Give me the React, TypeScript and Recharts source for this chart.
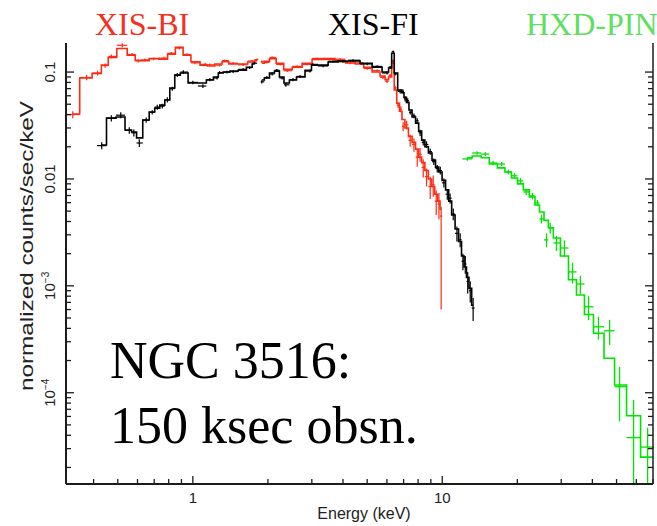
import React from "react";
import { ComposedChart, Line, Scatter, ErrorBar, XAxis, YAxis } from "recharts";

// XIS-BI (red): bin centre energy (keV), data rate, model, 1-sigma error
const biEnergy = [
  0.33, 0.375, 0.415, 0.445, 0.471, 0.521, 0.571, 0.604, 0.641, 0.697,
  0.765, 0.82, 0.883, 0.946, 1.02, 1.12, 1.17, 1.28, 1.34, 1.45,
  1.59, 1.73, 1.81, 1.85, 1.89, 1.98, 2.08, 2.24, 2.39, 2.62,
  2.87, 3.15, 3.55, 3.89, 4.27, 4.69, 5.0, 5.48, 5.79, 6.01,
  6.18, 6.36, 6.48,
  6.66, 6.82, 6.97, 7.2, 7.44, 7.7, 7.94, 8.15, 8.39, 8.65,
  8.95, 9.2, 9.46, 9.7, 9.9,
];
const biModel = [
  0.0405, 0.088, 0.097, 0.116, 0.137, 0.166, 0.144, 0.129, 0.128, 0.134,
  0.132, 0.147, 0.17, 0.144, 0.125, 0.116, 0.114, 0.119, 0.125, 0.119,
  0.119, 0.124, 0.128, null, 0.121, 0.126, 0.133, 0.121, 0.106, 0.111,
  0.121, 0.131, 0.134, 0.129, 0.124, 0.119, 0.111, 0.1, 0.092, 0.085,
  0.09, 0.128, 0.068,
  0.051, 0.043, 0.036, 0.03, 0.025, 0.022, 0.019, 0.016, 0.0142, 0.012,
  0.01, 0.0085, 0.0072, 0.0062, 0.0052,
];
const biRate = [
  0.04, 0.089, 0.098, 0.115, 0.14, 0.178, 0.146, 0.127, 0.13, 0.133,
  0.135, 0.15, 0.168, 0.146, 0.122, 0.118, 0.117, 0.116, 0.128, 0.121,
  0.117, 0.127, 0.131, null, 0.125, 0.123, 0.137, 0.118, 0.103, 0.113,
  0.118, 0.134, 0.131, 0.132, 0.121, 0.122, 0.108, 0.103, 0.089, 0.082,
  0.093, 0.122, 0.071,
  0.049, 0.045, 0.031, 0.032, 0.023, 0.021, 0.016, 0.017, 0.0128, 0.0105,
  0.0085, 0.0088, 0.0062, 0.0058, 0.0045,
];
const biErr = [
  0.003, 0.005, 0.005, 0.005, 0.006, 0.008, 0.005, 0.004, 0.004, 0.004,
  0.004, 0.004, 0.005, 0.004, 0.004, 0.004, 0.003, 0.003, 0.003, 0.003,
  0.003, 0.003, 0.003, null, 0.003, 0.003, 0.003, 0.003, 0.003, 0.003,
  0.003, 0.003, 0.003, 0.003, 0.003, 0.003, 0.003, 0.003, 0.003, 0.003,
  0.003, 0.004, 0.003,
  0.003, 0.003, 0.003, 0.003, 0.003, 0.003, 0.003, 0.0025, 0.0025, 0.002,
  0.002, 0.002, 0.0016, 0.0016, [0.0039, 0.001],
];

// XIS-FI (black)
const fiEnergy = [
  0.431, 0.471, 0.514, 0.556, 0.58, 0.61, 0.65, 0.687, 0.72, 0.754,
  0.79, 0.827, 0.866, 0.916, 1.0, 1.097, 1.17, 1.25, 1.28, 1.37,
  1.45, 1.59, 1.69, 1.77, 1.85, 1.89, 1.98, 2.08, 2.17, 2.28,
  2.36, 2.52, 2.69, 2.95, 3.03, 3.33, 3.65, 4.0, 4.39, 5.0,
  5.48, 6.01, 6.18, 6.36, 6.48,
  6.78, 6.95, 7.1, 7.27, 7.44, 7.7, 7.94, 8.15, 8.39, 8.65,
  8.95, 9.25, 9.55, 9.82, 10.15, 10.48, 10.75, 11.07, 11.45, 11.8,
  12.1, 12.37, 12.65, 12.95, 13.3,
];
const fiModel = [
  0.0208, 0.0371, 0.038, 0.0287, 0.0275, 0.0242, 0.0356, 0.0423, 0.046, 0.049,
  0.0548, 0.0709, 0.0937, 0.098, 0.0789, 0.079, 0.0842, 0.0898, 0.098, 0.1,
  0.102, 0.104, 0.111, 0.119, null, 0.0842, 0.088, 0.098, 0.102, 0.0898,
  0.0789, 0.0842, 0.0898, 0.104, 0.116, 0.116, 0.124, 0.127, 0.127, 0.121,
  0.111, 0.1, 0.109, 0.15, 0.098,
  0.068, 0.064, 0.058, 0.052, 0.0441, 0.038, 0.0333, 0.028, 0.0231, 0.02,
  0.0175, 0.015, 0.0129, 0.0116, 0.0097, 0.0079, 0.0062, 0.0046, 0.0034, 0.0026,
  0.0019, 0.0015, 0.0012, 0.00095, 0.00066,
];
const fiRate = [
  0.0205, 0.037, 0.0395, 0.0285, 0.027, 0.0217, 0.0355, 0.042, 0.047, 0.048,
  0.055, 0.07, 0.094, 0.1, 0.08, 0.074, 0.085, 0.088, 0.099, 0.1,
  0.101, 0.106, 0.11, 0.121, null, 0.081, 0.089, 0.096, 0.104, 0.088,
  0.076, 0.085, 0.091, 0.102, 0.118, 0.114, 0.126, 0.125, 0.129, 0.119,
  0.113, 0.098, 0.111, 0.155, 0.096,
  0.066, 0.066, 0.056, 0.054, 0.042, 0.039, 0.035, 0.027, 0.022, 0.021,
  0.018, 0.0145, 0.0125, 0.012, 0.0092, 0.0072, 0.0066, 0.0047, 0.0031, 0.0027,
  0.0017, 0.0016, 0.0011, 0.0009, 0.00062,
];
const fiErr = [
  0.0015, 0.0025, 0.0025, 0.002, 0.002, 0.0018, 0.002, 0.002, 0.0025, 0.0025,
  0.003, 0.003, 0.004, 0.004, 0.003, 0.003, 0.003, 0.003, 0.003, 0.003,
  0.003, 0.003, 0.003, 0.003, null, 0.003, 0.003, 0.003, 0.003, 0.003,
  0.003, 0.003, 0.003, 0.003, 0.003, 0.003, 0.003, 0.003, 0.003, 0.003,
  0.003, 0.003, 0.003, 0.004, 0.003,
  0.003, 0.003, 0.003, 0.003, 0.002, 0.002, 0.002, 0.0018, 0.0015, 0.0015,
  0.0012, 0.001, 0.001, 0.001, 0.0009, 0.0008, 0.0007, 0.0006, 0.0005, 0.0004,
  0.0003, 0.0003, 0.00025, 0.0002, 0.00015,
];

// HXD-PIN (green)
const pinEnergy = [
  12.6, 13.8, 14.9, 16.0, 17.3, 18.4, 19.5, 20.6, 21.7, 23.0,
  24.1, 25.0, 26.2, 27.1, 28.7, 30.9, 33.3, 35.8, 38.6, 42.3,
  46.9, 51.4, 58.5, 66.6, 75,
];
const pinRate = [
  0.0154, 0.0175, 0.0171, 0.0141, 0.0138, 0.0116, 0.0107, 0.0096, 0.00756, 0.00694,
  0.00597, 0.00423, 0.00269, 0.00348, 0.00252, 0.00226, 0.00135, 0.00104, 0.000637, 0.000414,
  0.00038, 0.000114, 0.000038, 0.000031, null,
];
const pinModel = [
  0.0158, 0.0164, 0.0158, 0.0138, 0.0127, 0.0116, 0.0102, 0.009, 0.0079, 0.0068,
  0.0057, 0.0049, 0.0041, 0.0035, 0.0028, 0.0019, 0.00114, 0.00082, 0.00054, 0.00036,
  0.00021, 0.000118, 0.000061, 0.000025, 0.000018,
];
const pinErr = [
  0.0006, 0.0007, 0.0007, 0.0006, 0.0006, 0.0006, 0.0006, 0.0006, 0.0005, 0.0005,
  0.0004, 0.0004, 0.0004, 0.0004, 0.0004, 0.0004, 0.0003, 0.0002, 0.00016, 0.0001,
  0.0001, 0.00006, [0.000024, 0.000048], [0.000017, 0.000016], null,
];

// axes
const xDomain = [0.31, 70];
const yDomain = [0.000014, 0.187];
const xMajorTicks = [1, 10];
const xTicks = [
  0.4, 0.5, 0.6, 0.7, 0.8, 0.9, 1, 2, 3, 4, 5, 6, 7, 8, 9, 10,
  20, 30, 40, 50, 60, 70,
];
const yMajorTicks = [0.0001, 0.001, 0.01, 0.1];
const yTickLabels = [["10", "\u22124"], ["10", "\u22123"], ["0.01"], ["0.1"]];
const yTicks = [
  0.00002, 0.00003, 0.00004, 0.00005, 0.00006, 0.00007, 0.00008, 0.00009,
  0.0001, 0.0002, 0.0003, 0.0004, 0.0005, 0.0006, 0.0007, 0.0008, 0.0009,
  0.001, 0.002, 0.003, 0.004, 0.005, 0.006, 0.007, 0.008, 0.009,
  0.01, 0.02, 0.03, 0.04, 0.05, 0.06, 0.07, 0.08, 0.09, 0.1,
];

const RED = "#ff2a12";
const GREEN = "#00e400";
const AXIS = "#1c1c1c";
const SANS = "'Liberation Sans', Arial, Helvetica, sans-serif";
const SERIF = "'Liberation Serif', 'Times New Roman', serif";

// rows for one instrument; x error = half of the bin, bin edges halfway (in log) to the neighbours
function buildRows(energy: number[], rate: any[], model: any[], err: any[]) {
  return energy.map((e, i) => {
    const left = i > 0 ? Math.sqrt(e * energy[i - 1]) : (e * e) / Math.sqrt(e * energy[i + 1]);
    const right =
      i < energy.length - 1 ? Math.sqrt(e * energy[i + 1]) : (e * e) / Math.sqrt(e * energy[i - 1]);
    return { e, rate: rate[i], model: model[i], xErr: [e - left, right - e], yErr: err[i] };
  });
}

const biRows = buildRows(biEnergy, biRate, biModel, biErr);
const fiRows = buildRows(fiEnergy, fiRate, fiModel, fiErr);
const pinRows = buildRows(pinEnergy, pinRate, pinModel, pinErr);

const isMajor = (list: number[], v: number) => list.some((m) => Math.abs(m - v) / m < 1e-6);

function BottomTick(props: any) {
  const { x, y, payload } = props;
  const major = isMajor(xMajorTicks, payload.value);
  return (
    <g>
      <line x1={x} x2={x} y1={y} y2={y - (major ? 8 : 5)} stroke={AXIS} strokeWidth={1.3} />
      {major && (
        <text x={x} y={y + 19} textAnchor="middle" fontSize={15} fontFamily={SANS} fill="#222">
          {payload.value}
        </text>
      )}
    </g>
  );
}

function TopTick(props: any) {
  const { x, y, payload } = props;
  const major = isMajor(xMajorTicks, payload.value);
  return <line x1={x} x2={x} y1={y} y2={y + (major ? 8 : 5)} stroke={AXIS} strokeWidth={1.3} />;
}

function LeftTick(props: any) {
  const { x, y, payload } = props;
  const idx = yMajorTicks.findIndex((m) => Math.abs(m - payload.value) / m < 1e-6);
  const major = idx >= 0;
  const lx = x - 11;
  const label = major ? yTickLabels[idx] : null;
  return (
    <g>
      <line x1={x} x2={x + (major ? 8 : 5)} y1={y} y2={y} stroke={AXIS} strokeWidth={1.3} />
      {label && (
        <text
          x={lx}
          y={y}
          transform={`rotate(-90 ${lx} ${y})`}
          textAnchor="middle"
          fontSize={15}
          fontFamily={SANS}
          fill="#222"
        >
          {label[0]}
          {label[1] && (
            <tspan dy={-6} fontSize={10}>
              {label[1]}
            </tspan>
          )}
        </text>
      )}
    </g>
  );
}

function RightTick(props: any) {
  const { x, y, payload } = props;
  const major = isMajor(yMajorTicks, payload.value);
  return <line x1={x} x2={x - (major ? 8 : 5)} y1={y} y2={y} stroke={AXIS} strokeWidth={1.3} />;
}

const noShape = () => <g />;

export default function App() {
  const points = (rows: any[]) => rows.filter((r) => r.rate != null);
  return (
    <div style={{ position: "absolute", left: 0, top: 0, width: 657, height: 526, background: "#fff" }}>
      <ComposedChart width={657} height={526} margin={{ top: 43, right: 0, bottom: 0, left: 0 }}>
        <XAxis
          dataKey="e"
          type="number"
          scale="log"
          domain={xDomain}
          allowDataOverflow
          ticks={xTicks}
          interval={0}
          tick={BottomTick}
          tickLine={false}
          tickSize={0}
          tickMargin={0}
          height={42}
          axisLine={{ stroke: AXIS, strokeWidth: 2 }}
        />
        <XAxis
          xAxisId="top"
          orientation="top"
          dataKey="e"
          type="number"
          scale="log"
          domain={xDomain}
          allowDataOverflow
          ticks={xTicks}
          interval={0}
          tick={TopTick}
          tickLine={false}
          tickSize={0}
          tickMargin={0}
          height={0}
          axisLine={{ stroke: AXIS, strokeWidth: 1.5 }}
        />
        <YAxis
          type="number"
          scale="log"
          domain={yDomain}
          allowDataOverflow
          ticks={yTicks}
          interval={0}
          tick={LeftTick}
          tickLine={false}
          tickSize={0}
          tickMargin={0}
          width={66}
          axisLine={{ stroke: AXIS, strokeWidth: 2 }}
        />
        <YAxis
          yAxisId="right"
          orientation="right"
          type="number"
          scale="log"
          domain={yDomain}
          allowDataOverflow
          ticks={yTicks}
          interval={0}
          tick={RightTick}
          tickLine={false}
          tickSize={0}
          tickMargin={0}
          width={4}
          axisLine={{ stroke: AXIS, strokeWidth: 1.5 }}
        />

        <Line data={biRows} dataKey="model" type="step" stroke={RED} strokeWidth={1.6} dot={false} isAnimationActive={false} />
        <Scatter data={points(biRows)} dataKey="rate" shape={noShape} isAnimationActive={false}>
          <ErrorBar dataKey="xErr" direction="x" width={0} stroke={RED} strokeWidth={1.2} />
          <ErrorBar dataKey="yErr" direction="y" width={0} stroke={RED} strokeWidth={1.2} />
        </Scatter>

        <Line data={fiRows} dataKey="model" type="step" stroke="#000" strokeWidth={1.6} dot={false} isAnimationActive={false} />
        <Scatter data={points(fiRows)} dataKey="rate" shape={noShape} isAnimationActive={false}>
          <ErrorBar dataKey="xErr" direction="x" width={0} stroke="#000" strokeWidth={1.2} />
          <ErrorBar dataKey="yErr" direction="y" width={0} stroke="#000" strokeWidth={1.2} />
        </Scatter>

        <Line data={pinRows} dataKey="model" type="step" stroke={GREEN} strokeWidth={1.6} dot={false} isAnimationActive={false} />
        <Scatter data={points(pinRows)} dataKey="rate" shape={noShape} isAnimationActive={false}>
          <ErrorBar dataKey="xErr" direction="x" width={0} stroke={GREEN} strokeWidth={1.3} />
          <ErrorBar dataKey="yErr" direction="y" width={0} stroke={GREEN} strokeWidth={1.3} />
        </Scatter>
      </ComposedChart>

      <svg width={657} height={526} style={{ position: "absolute", left: 0, top: 0, pointerEvents: "none" }}>
        <text x={95} y={35} fontSize={32} fontFamily={SERIF} fill="#f5301c">XIS-BI</text>
        <text x={328} y={35} fontSize={32} fontFamily={SERIF} fill="#000">XIS-FI</text>
        <text x={526} y={35} fontSize={32} fontFamily={SERIF} fill="#5ee05e">HXD-PIN</text>
        <text x={110} y={378} fontSize={52} fontFamily={SERIF} fill="#000">NGC 3516:</text>
        <text x={110} y={443} fontSize={52} fontFamily={SERIF} fill="#000">150 ksec obsn.</text>
        <text
          x={33}
          y={246}
          transform="rotate(-90 33 246)"
          textAnchor="middle"
          fontSize={18}
          textLength={290}
          lengthAdjust="spacingAndGlyphs"
          fontFamily={SANS}
          fill="#222"
        >
          normalized counts/sec/keV
        </text>
        <text x={364} y={519} textAnchor="middle" fontSize={16} fontFamily={SANS} fill="#222">
          Energy (keV)
        </text>
      </svg>
    </div>
  );
}
